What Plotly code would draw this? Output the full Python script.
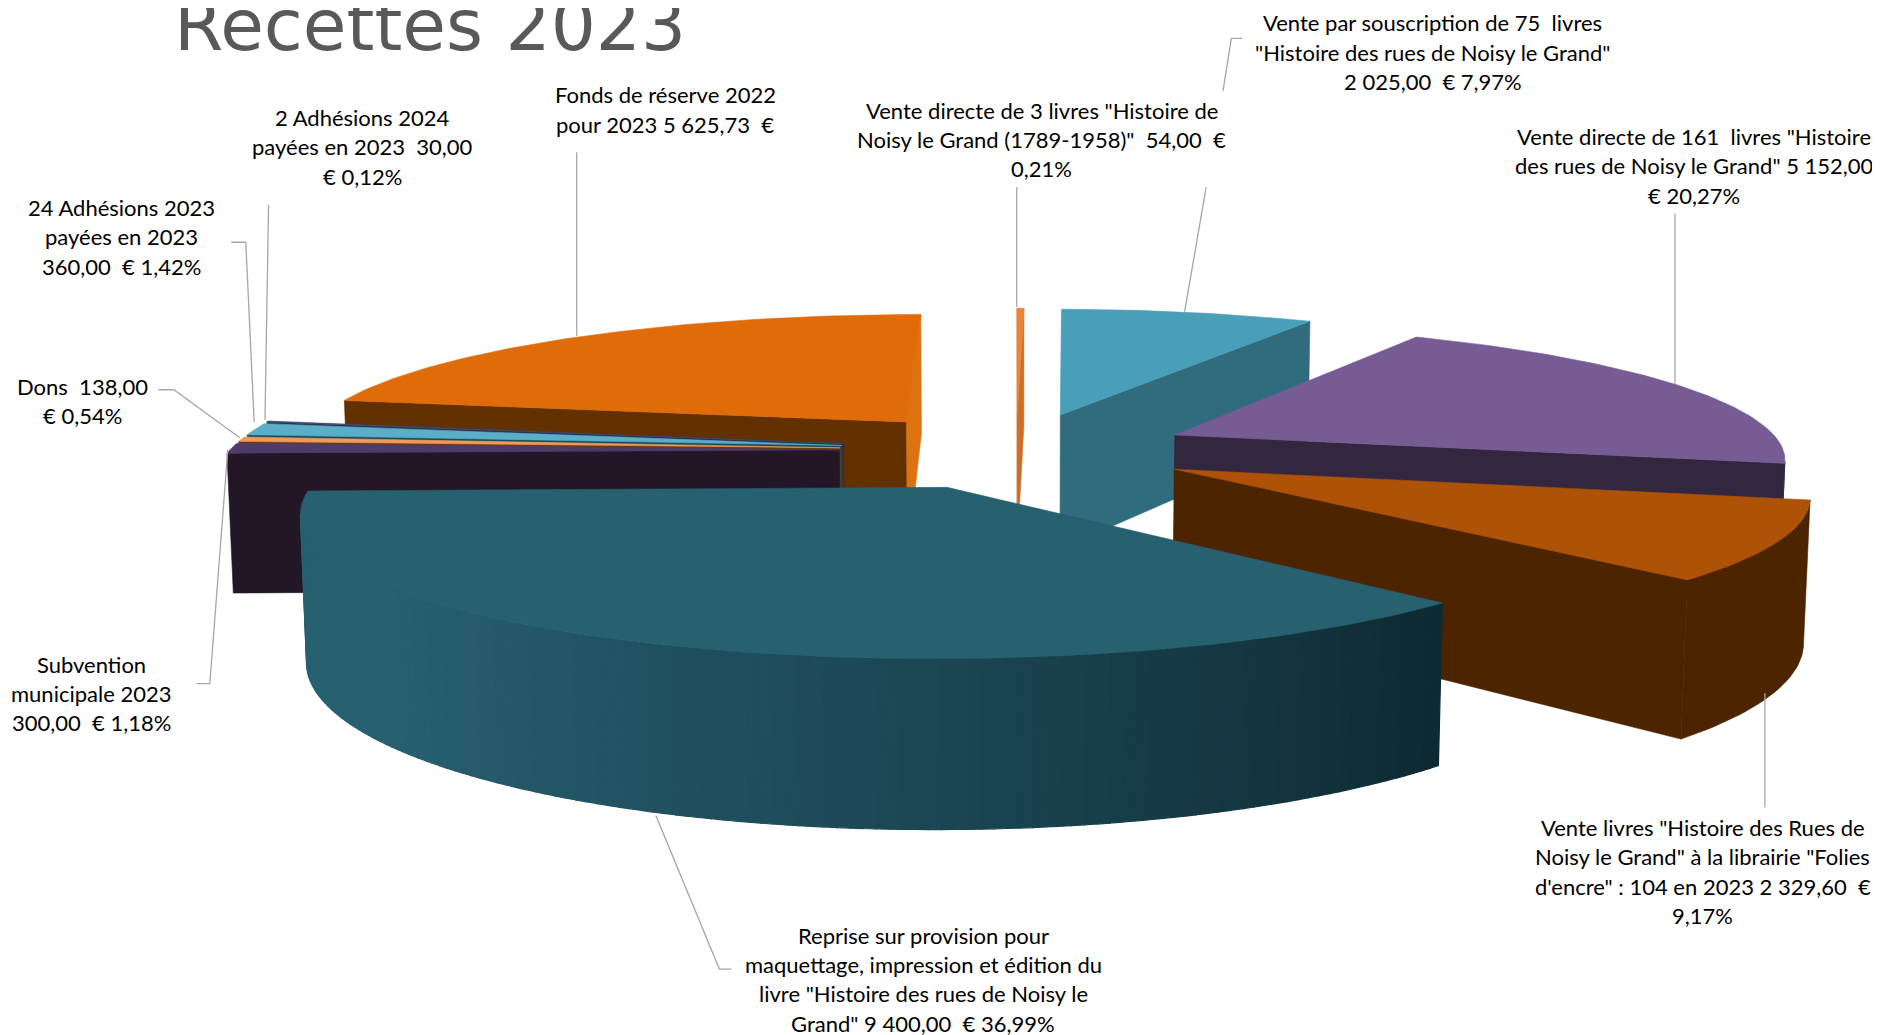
import math
import plotly.graph_objects as go

# ---- data (clockwise from 12 o'clock) ----
names = ["Vente directe 3 livres", "Vente par souscription", "Vente directe 161 livres", "Librairie Folies d'encre",
         "Reprise sur provision", "Subvention municipale", "Dons", "24 Adhésions 2023", "2 Adhésions 2024", "Fonds de réserve"]
values = [54.00, 2025.00, 5152.00, 2329.60, 9400.00, 300.00, 138.00, 360.00, 30.00, 5625.73]

top_colors = ["#E8853A", "#4A9FB8", "#775B94", "#AD5207", "#27606F", "#4E3A6B", "#EF9C5A", "#5AAEC8", "#3D4A75", "#E06C09"]
start_face_colors = ["#C96F28", "#316C7E", "#33263F", "#4C2400", "#0E2932", "#231627", "#6B3A12", "#1E4A58", "#2A2F4A", "#633000"]
end_face_colors = ["#C96F28", "#316C7E", "#33263F", "#4C2400", "#0E2932", "#231627", "#6B3A12", "#1E4A58", "#2A2F4A", "#DC7210"]

# gradient on the rim of the big slice: (angle in degrees, colour)
rim_stops = [(135, (14, 41, 50)), (180, (27, 70, 84)), (230, (39, 96, 111)), (270, (39, 96, 111))]

label_lines = [
    ['Vente directe de 3 livres "Histoire de', 'Noisy le Grand (1789-1958)"  54,00  €', '0,21%'],
    ['Vente par souscription de 75  livres', '"Histoire des rues de Noisy le Grand"', '2 025,00  € 7,97%'],
    ['Vente directe de 161  livres "Histoire', 'des rues de Noisy le Grand" 5 152,00', '€ 20,27%'],
    ['Vente livres "Histoire des Rues de', 'Noisy le Grand" à la librairie "Folies', 'd\'encre" : 104 en 2023 2 329,60  €', '9,17%'],
    ['Reprise sur provision pour', 'maquettage, impression et édition du', 'livre "Histoire des rues de Noisy le', 'Grand" 9 400,00  € 36,99%'],
    ['Subvention', 'municipale 2023', '300,00  € 1,18%'],
    ['Dons  138,00', '€ 0,54%'],
    ['24 Adhésions 2023', 'payées en 2023', '360,00  € 1,42%'],
    ['2 Adhésions 2024', 'payées en 2023  30,00', '€ 0,12%'],
    ['Fonds de réserve 2022', 'pour 2023 5 625,73  €'],
]
label_cx = [869, 1195, 1413, 1420, 770, 76, 69, 101, 302, 555]
label_y0 = [92, 19, 114, 690, 780, 554, 322, 173, 98, 79]
LINE_H = 24.4

leaders = [
    [(848, 156), (848, 256)],
    [(1036, 32), (1027, 32), (1020, 76)],
    [(1006, 156), (988, 260)],
    [(1397, 178), (1397, 320)],
    [(1472, 673), (1472, 578)],
    [(610, 808), (600, 808), (547, 680)],
    [(164, 570), (175, 570), (190, 375)],
    [(132, 325), (145, 325), (200, 365)],
    [(193, 202), (205, 202), (212, 352)],
    [(224, 171), (221, 350)],
    [(481, 127), (481, 280)],
]

# ---- view of the 3D pie ----
W_D, H_D = 1568, 863
PAGE_PAD = 8 * W_D / 1880
EXPLODE = 0.29
THICK = 0.236
DIST = 6.33
FOCAL = 3220
SIN_E = 0.2164
COS_E = math.sqrt(1 - SIN_E ** 2)
CX, CY = 847.5, 375.5


def proj(X, Y, Z):
    w = DIST + Y * COS_E - Z * SIN_E
    v = Z * COS_E + Y * SIN_E
    return CX + FOCAL * X / w, CY - FOCAL * v / w


def area(poly):
    s = 0
    for i in range(len(poly)):
        x1, y1 = poly[i]
        x2, y2 = poly[(i + 1) % len(poly)]
        s += x1 * y2 - x2 * y1
    return s / 2


def lerp_rim(a):
    for (a0, c0), (a1, c1) in zip(rim_stops, rim_stops[1:]):
        if a0 <= a <= a1:
            t = (a - a0) / (a1 - a0)
            c = [round(p + (q - p) * t) for p, q in zip(c0, c1)]
            return "rgb(%d,%d,%d)" % tuple(c)
    return "rgb(%d,%d,%d)" % rim_stops[-1][1]


fig = go.Figure()


def add_poly(poly, color, name, lw=0.6):
    xs = [p[0] for p in poly] + [poly[0][0]]
    ys = [p[1] for p in poly] + [poly[0][1]]
    fig.add_trace(go.Scatter(x=xs, y=ys, mode="lines", fill="toself", fillcolor=color,
                             line=dict(color=color, width=lw), hoverinfo="text", text=name,
                             showlegend=False))


total = sum(values)
slices = []
cum = 0
for i, val in enumerate(values):
    a0 = cum / total * 360
    cum += val
    a1 = cum / total * 360
    mid = math.radians((a0 + a1) / 2)
    slices.append((i, a0, a1, EXPLODE * math.sin(mid), EXPLODE * math.cos(mid)))

# painter's order: back to front
for i, a0, a1, ox, oy in sorted(slices, key=lambda s: -s[4]):
    n = max(2, int((a1 - a0) * 1.0))
    angs = [a0 + (a1 - a0) * k / n for k in range(n + 1)]
    rim_top = [(ox + math.sin(math.radians(a)), oy + math.cos(math.radians(a))) for a in angs]
    tip = (ox, oy)

    # radial faces (front-facing only)
    for edge, col, flip in ((rim_top[0], start_face_colors[i], -1), (rim_top[-1], end_face_colors[i], 1)):
        quad = [proj(*tip, 0), proj(*edge, 0), proj(*edge, -THICK), proj(*tip, -THICK)]
        if flip * area(quad) > 0:
            add_poly(quad, col, names[i])
    # outer rim (front-facing strips)
    visible = []
    for k in range(n):
        p, q = rim_top[k], rim_top[k + 1]
        quad = [proj(*p, 0), proj(*q, 0), proj(*q, -THICK), proj(*p, -THICK)]
        if area(quad) < 0:
            visible.append(k)
            if i == 4:
                add_poly(quad, lerp_rim((angs[k] + angs[k + 1]) / 2), names[i], lw=1.2)
    if visible and i != 4:
        run = [rim_top[k] for k in visible] + [rim_top[visible[-1] + 1]]
        add_poly([proj(*p, 0) for p in run] + [proj(*p, -THICK) for p in reversed(run)], start_face_colors[i], names[i])
    # top face
    add_poly([proj(*tip, 0)] + [proj(*p, 0) for p in rim_top], top_colors[i], names[i])

# leader lines
for pts in leaders:
    fig.add_trace(go.Scatter(x=[p[0] for p in pts], y=[p[1] for p in pts], mode="lines",
                             line=dict(color="#A6A6A6", width=1.3), hoverinfo="skip", showlegend=False))

annotations = [dict(text="Recettes 2023", x=359, y=21, xref="x", yref="y", showarrow=False,
                    font=dict(family="DejaVu Sans", size=71, color="#595959"), xanchor="center", yanchor="middle")]
for lines, cx, y0 in zip(label_lines, label_cx, label_y0):
    for j, line in enumerate(lines):
        annotations.append(dict(text=line, x=cx, y=y0 + j * LINE_H, xref="x", yref="y", showarrow=False,
                                font=dict(family="Lato", size=22, color="#000000"),
                                xanchor="center", yanchor="middle"))

fig.update_layout(
    width=1872, height=1027, margin=dict(l=0, r=0, t=0, b=0),
    paper_bgcolor="white", plot_bgcolor="white",
    xaxis=dict(range=[PAGE_PAD, W_D], visible=False, fixedrange=True),
    yaxis=dict(range=[H_D, PAGE_PAD], visible=False, fixedrange=True),
    annotations=annotations, showlegend=False,
)
fig.write_html("out.html")
